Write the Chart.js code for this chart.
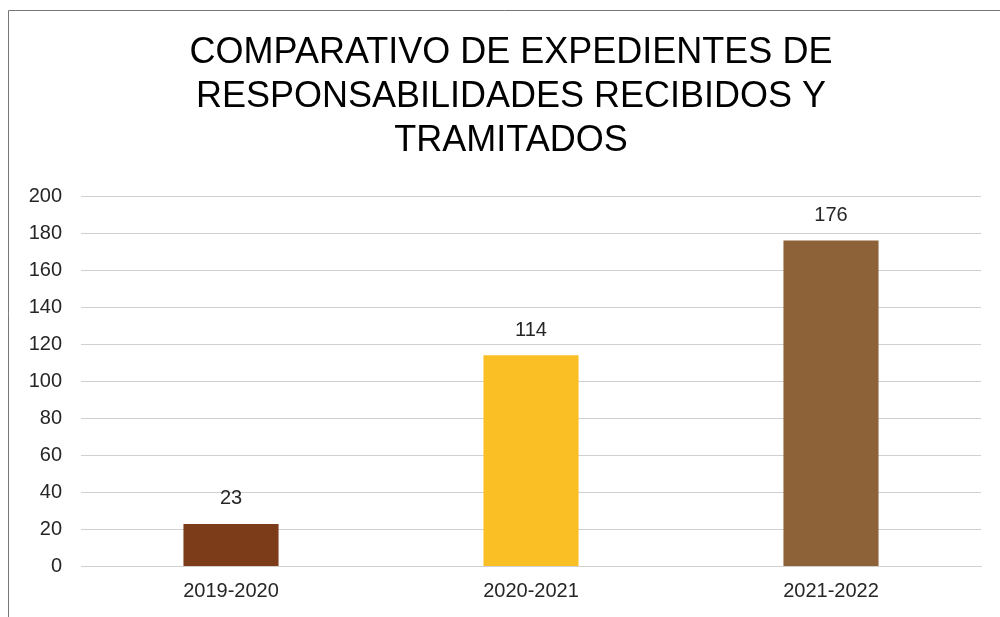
<!DOCTYPE html>
<html><head><meta charset="utf-8">
<script src="https://cdn.jsdelivr.net/npm/chart.js@4"></script>
<style>html,body{margin:0;padding:0;background:#fff;overflow:hidden}canvas{display:block}</style>
</head><body>
<canvas id="c" width="1000" height="617"></canvas>
<script>
const categories = ["2019-2020", "2020-2021", "2021-2022"];
const values = [23, 114, 176];
const barColors = ["#7C3B19", "#FBBF26", "#8E6239"];
const titleLines = ["COMPARATIVO DE EXPEDIENTES DE", "RESPONSABILIDADES RECIBIDOS Y", "TRAMITADOS"];
const yMin = 0, yMax = 200, yStep = 20;
const FONT = '"Liberation Sans", Arial, sans-serif';

const frame = {
  id: 'frame',
  beforeDraw(chart) {
    const ctx = chart.ctx;
    ctx.save();
    ctx.strokeStyle = '#767676';
    ctx.lineWidth = 1;
    ctx.beginPath();
    ctx.moveTo(8.5, 617); ctx.lineTo(8.5, 10.5); ctx.lineTo(1000, 10.5);
    ctx.stroke();
    ctx.restore();
  },
  afterDraw(chart) {
    const ctx = chart.ctx;
    ctx.save();
    ctx.font = '36px ' + FONT;
    ctx.fillStyle = '#000';
    ctx.textAlign = 'center';
    ctx.textBaseline = 'middle';
    titleLines.forEach((t, i) => ctx.fillText(t, 511, 53 + i * 44));
    ctx.restore();
  }
};
const labels = {
  id: 'vlabels',
  afterDatasetsDraw(chart) {
    const ctx = chart.ctx;
    const meta = chart.getDatasetMeta(0);
    ctx.save();
    ctx.font = '20px ' + FONT;
    ctx.fillStyle = '#262626';
    ctx.textAlign = 'center';
    ctx.textBaseline = 'middle';
    meta.data.forEach((bar, i) => {
      ctx.fillText(String(values[i]), bar.x, bar.y - 25);
    });
    ctx.restore();
  }
};

new Chart(document.getElementById('c'), {
  type: 'bar',
  data: { labels: categories, datasets: [{ data: values, backgroundColor: barColors, barPercentage: 1, categoryPercentage: 0.317 }] },
  options: {
    responsive: false, animation: false,
    layout: { padding: { left: 0, right: 19, top: 196, bottom: 1.5 } },
    plugins: { legend: { display: false }, tooltip: { enabled: false }, title: { display: false } },
    scales: {
      x: { grid: { display: false, drawTicks: false }, border: { color: '#d0d0d0' },
        ticks: { color: '#262626', padding: 12.5, font: { family: FONT, size: 20 } } },
      y: { min: yMin, max: yMax, afterFit(s) { s.width = 81; },
        grid: { color: '#d0d0d0', drawTicks: false }, border: { display: false },
        ticks: { stepSize: yStep, color: '#262626', padding: 19, font: { family: FONT, size: 20 } } }
    }
  },
  plugins: [frame, labels]
});
</script>
</body></html>
